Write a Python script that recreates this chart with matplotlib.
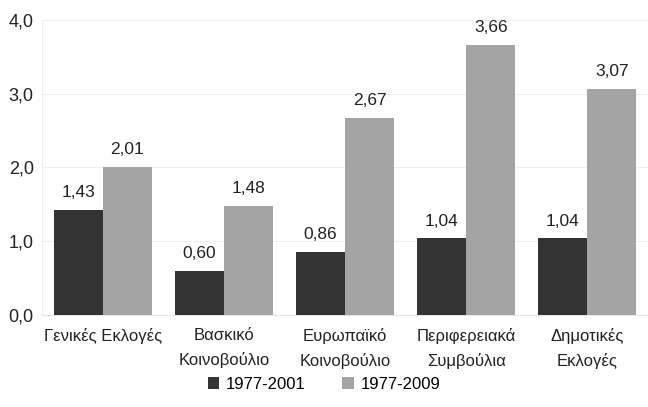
import matplotlib
matplotlib.use("Agg")
import matplotlib.pyplot as plt
import numpy as np

categories = ["Γενικές Εκλογές", "Βασκικό\nΚοινοβούλιο", "Ευρωπαϊκό\nΚοινοβούλιο",
              "Περιφερειακά\nΣυμβούλια", "Δημοτικές\nΕκλογές"]
series_names = ["1977-2001", "1977-2009"]
values_2001 = [1.43, 0.60, 0.86, 1.04, 1.04]
values_2009 = [2.01, 1.48, 2.67, 3.66, 3.07]
yticks = [0, 1, 2, 3, 4]

plt.rcParams['font.family'] = ['Liberation Sans', 'DejaVu Sans']

fig = plt.figure(figsize=(6.48, 4.07), dpi=100)
ax = fig.add_axes([0.065, 0.226, 0.935, 0.725])

x = np.arange(len(categories))
w = 0.405
colors = ["#333333", "#a4a4a4"]
b1 = ax.bar(x - w/2, values_2001, w, color=colors[0], label=series_names[0], zorder=3)
b2 = ax.bar(x + w/2, values_2009, w, color=colors[1], label=series_names[1], zorder=3)

for bars, vals in ((b1, values_2001), (b2, values_2009)):
    for r, v in zip(bars, vals):
        ax.text(r.get_x() + r.get_width()/2, v + 0.13, f"{v:.2f}".replace(".", ","),
                ha="center", va="bottom", fontsize=12.5, color="#222222")

ax.set_xlim(-0.5, 4.5)
ax.set_ylim(0, 4)
ax.set_yticks(yticks)
ax.set_yticklabels([f"{t:.1f}".replace(".", ",") for t in yticks], fontsize=13, color="#222222")
ax.set_xticks(x)
ax.set_xticklabels(categories, fontsize=12, color="#222222", linespacing=1.75)
ax.tick_params(axis="both", length=0, pad=9)
ax.tick_params(axis="y", pad=6)
ax.grid(axis="y", color="#eeeeee", linewidth=0.8, zorder=0)
for s in ["top", "right"]:
    ax.spines[s].set_visible(False)
ax.spines["left"].set_color("#eeeeee")
ax.spines["bottom"].set_color("#e6e6e6")

leg = fig.legend(handles=[b1, b2], labels=series_names, loc="lower center",
                 bbox_to_anchor=(0.5, 0.0), ncol=2, frameon=False, fontsize=12,
                 handlelength=0.7, handleheight=0.7, handletextpad=0.4, columnspacing=2.2)
fig.savefig("out.png", dpi=100, facecolor="white")
